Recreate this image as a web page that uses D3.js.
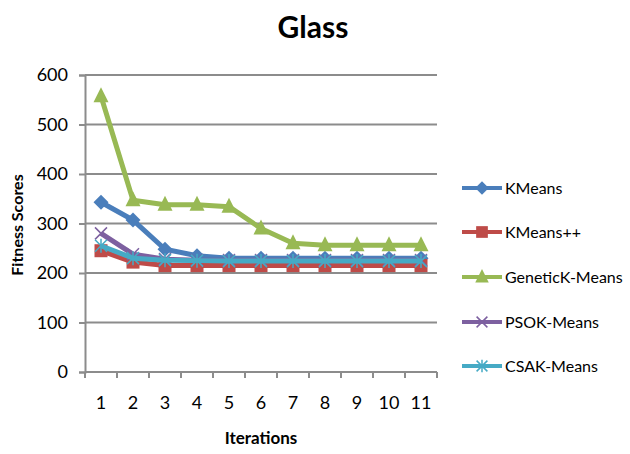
<!DOCTYPE html>
<html>
<head>
<meta charset="utf-8">
<script src="https://cdn.jsdelivr.net/npm/d3@7/dist/d3.min.js"></script>
<style>
  html, body { margin: 0; padding: 0; background: #fff; }
  svg { display: block; font-family: Lato, "Open Sans", sans-serif; }
</style>
</head>
<body>
<svg id="chart" width="630" height="454"></svg>
<script>
// Iteration labels along the x axis
const iterations = ["1", "2", "3", "4", "5", "6", "7", "8", "9", "10", "11"];

// Fitness score per iteration for each algorithm
const kmeans      = [343, 307, 248, 235, 230, 230, 230, 230, 230, 230, 230];
const kmeansPP    = [245, 222, 215, 215, 215, 215, 215, 215, 215, 215, 215];
const geneticK    = [557, 347, 338, 338, 334, 290, 260, 256, 256, 256, 256];
const psoK        = [280, 238, 228, 226, 226, 226, 226, 226, 226, 226, 226];
const csaK        = [255, 230, 226, 225, 224, 224, 224, 224, 224, 224, 224];

const seriesNames = ["KMeans", "KMeans++", "GeneticK-Means", "PSOK-Means", "CSAK-Means"];
const yTicks = [0, 100, 200, 300, 400, 500, 600];

const series = [
  { name: seriesNames[0], values: kmeans,   color: "#4A7EBB", marker: "diamond" },
  { name: seriesNames[1], values: kmeansPP, color: "#BE4B48", marker: "square" },
  { name: seriesNames[2], values: geneticK, color: "#98B954", marker: "triangle" },
  { name: seriesNames[3], values: psoK,     color: "#7D60A0", marker: "x" },
  { name: seriesNames[4], values: csaK,     color: "#46AAC5", marker: "star" }
];

const svg = d3.select("#chart");
const plot = { left: 85, right: 437, top: 75, bottom: 372 };

const x = d3.scaleBand().domain(iterations).range([plot.left, plot.right]).padding(0);
const y = d3.scaleLinear().domain([0, 600]).range([plot.bottom, plot.top]);

const gridColor = "#8C8C8C";

// Title
svg.append("text")
  .attr("x", 313).attr("y", 38)
  .attr("text-anchor", "middle")
  .attr("font-size", 30).attr("font-weight", "bold")
  .attr("fill", "#000")
  .text("Glass");

// Horizontal gridlines
svg.append("g")
  .selectAll("line")
  .data(yTicks.filter(d => d > 0))
  .join("line")
  .attr("x1", plot.left).attr("x2", plot.right)
  .attr("y1", d => y(d)).attr("y2", d => y(d))
  .attr("stroke", gridColor).attr("stroke-width", 2);

// Y axis
const yAxis = svg.append("g")
  .attr("transform", `translate(${plot.left},0)`)
  .call(d3.axisLeft(y).tickValues(yTicks).tickSize(6).tickPadding(11));
yAxis.select(".domain").attr("stroke", gridColor).attr("stroke-width", 2);
yAxis.selectAll(".tick line").attr("stroke", gridColor).attr("stroke-width", 2);
yAxis.selectAll(".tick text")
  .attr("font-size", 18).attr("fill", "#000")
  .attr("font-family", "Lato, sans-serif");

// X axis: ticks at band boundaries, labels at band centres
const xAxisG = svg.append("g").attr("transform", `translate(0,${plot.bottom})`);
xAxisG.append("line")
  .attr("x1", plot.left).attr("x2", plot.right)
  .attr("stroke", gridColor).attr("stroke-width", 2);
const boundaries = iterations.map(d => x(d)).concat([plot.right]);
xAxisG.selectAll("line.tick")
  .data(boundaries)
  .join("line")
  .attr("class", "tick")
  .attr("x1", d => d).attr("x2", d => d)
  .attr("y1", 0).attr("y2", 6)
  .attr("stroke", gridColor).attr("stroke-width", 2);
xAxisG.selectAll("text")
  .data(iterations)
  .join("text")
  .attr("x", d => x(d) + x.bandwidth() / 2)
  .attr("y", 37)
  .attr("text-anchor", "middle")
  .attr("font-size", 18)
  .attr("fill", "#000")
  .text(d => d);

// Axis titles
svg.append("text")
  .attr("x", 261).attr("y", 444)
  .attr("text-anchor", "middle")
  .attr("font-size", 17).attr("font-weight", "bold")
  .text("Iterations");

svg.append("text")
  .attr("transform", "translate(23,225) rotate(-90)")
  .attr("text-anchor", "middle")
  .attr("font-size", 16).attr("font-weight", "bold")
  .text("Fitness Scores");

// Marker drawing
function drawMarker(g, type, color, cx, cy, scale = 1) {
  const s = scale;
  if (type === "diamond") {
    g.append("path")
      .attr("d", `M${cx},${cy - 7.5 * s}L${cx + 7.5 * s},${cy}L${cx},${cy + 7.5 * s}L${cx - 7.5 * s},${cy}Z`)
      .attr("fill", color);
  } else if (type === "square") {
    g.append("rect")
      .attr("x", cx - 6.5 * s).attr("y", cy - 6.5 * s)
      .attr("width", 13 * s).attr("height", 13 * s)
      .attr("fill", color);
  } else if (type === "triangle") {
    g.append("path")
      .attr("d", `M${cx},${cy - 9 * s}L${cx + 7.5 * s},${cy + 6 * s}L${cx - 7.5 * s},${cy + 6 * s}Z`)
      .attr("fill", color);
  } else if (type === "x") {
    g.append("path")
      .attr("d", `M${cx - 6 * s},${cy - 6 * s}L${cx + 6 * s},${cy + 6 * s}M${cx - 6 * s},${cy + 6 * s}L${cx + 6 * s},${cy - 6 * s}`)
      .attr("stroke", color).attr("stroke-width", 1.5).attr("fill", "none");
  } else if (type === "star") {
    g.append("path")
      .attr("d", `M${cx - 6 * s},${cy - 6 * s}L${cx + 6 * s},${cy + 6 * s}M${cx - 6 * s},${cy + 6 * s}L${cx + 6 * s},${cy - 6 * s}M${cx},${cy - 7 * s}L${cx},${cy + 7 * s}`)
      .attr("stroke", color).attr("stroke-width", 1.5).attr("fill", "none");
  }
}

// Series lines and markers
const line = d3.line()
  .x((d, i) => x(iterations[i]) + x.bandwidth() / 2)
  .y(d => y(d));

series.forEach(s => {
  const g = svg.append("g");
  g.append("path")
    .datum(s.values)
    .attr("d", line)
    .attr("fill", "none")
    .attr("stroke", s.color)
    .attr("stroke-width", 5)
    .attr("stroke-linejoin", "round");
  s.values.forEach((v, i) => {
    drawMarker(g, s.marker, s.color, x(iterations[i]) + x.bandwidth() / 2, y(v));
  });
});

// Legend
const legendRows = [188, 232, 277, 322, 366];
series.forEach((s, i) => {
  const g = svg.append("g");
  const ly = legendRows[i];
  g.append("line")
    .attr("x1", 462).attr("x2", 502)
    .attr("y1", ly).attr("y2", ly)
    .attr("stroke", s.color).attr("stroke-width", 4);
  drawMarker(g, s.marker, s.color, 482, ly, 0.9);
  g.append("text")
    .attr("x", 505).attr("y", ly + 6)
    .attr("font-size", 16)
    .attr("fill", "#000")
    .text(s.name);
});
</script>
</body>
</html>
